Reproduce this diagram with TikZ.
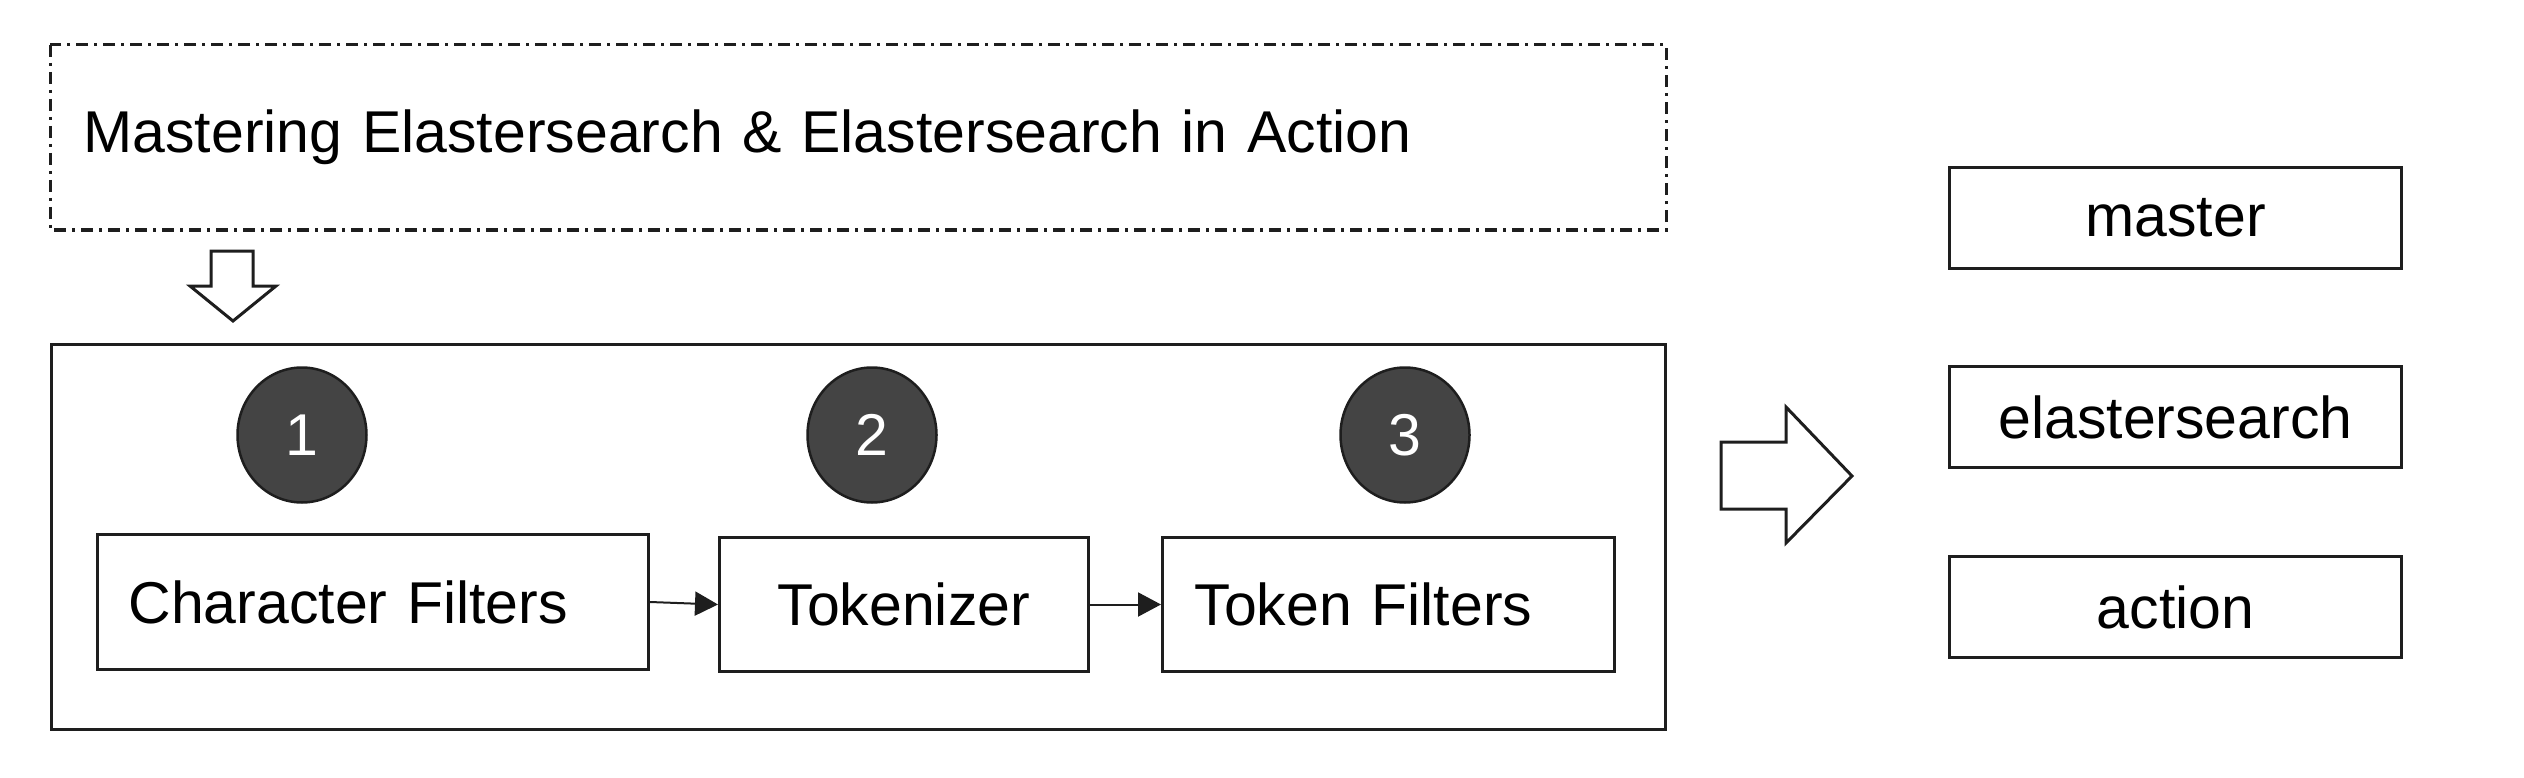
\documentclass[tikz,border=0pt]{standalone}
\usepackage{fontspec}
\setmainfont{Liberation Sans}
\usetikzlibrary{shapes.geometric,arrows.meta}
\definecolor{linec}{HTML}{1E1E1E}
\definecolor{discfill}{HTML}{444444}
\tikzset{
  lbl/.style={font=\fontsize{59}{70}\selectfont, text=black},
  box/.style={draw=linec, line width=3pt, rectangle, inner ysep=0pt, lbl},
  framebox/.style={draw=linec, line width=2.5pt, rectangle, inner sep=0pt},
  dashdot/.style={draw=linec, line width=3pt, dash pattern=on 12pt off 6pt on 3pt off 6pt},
  disc/.style={ellipse, draw=linec, line width=2.5pt, fill=discfill, minimum width=129pt, minimum height=135pt, inner sep=0pt, font=\fontsize{59}{70}\selectfont, text=white},
  conn/.style={draw=linec, line width=2pt, -{Triangle[length=23pt,width=24pt]}},
  blockarrow/.style={draw=linec, line width=3pt, fill=white, line join=miter}
}
\begin{document}
\begin{tikzpicture}[x=1pt,y=-1pt]
\useasboundingbox (0,0) rectangle (2524,778);
% title box
\node[box, draw=none, anchor=north west, minimum height=182pt, text width=1549pt, inner xsep=32pt, align=left] (title) at (50,45) {Mastering Elastersearch \& Elastersearch in Action};
\draw[dashdot] (title.north west) rectangle (title.south east);
% down block arrow
\draw[blockarrow] (211,251) -- (253,251) -- (253,286) -- (276,286) -- (233,321) -- (190,286) -- (211,286) -- cycle;
% outer frame
\node[framebox, anchor=north west, minimum width=1614pt, minimum height=385pt] (frame) at (50,343) {};
% discs
\node[disc] (d1) at (302,435) {1};
\node[disc] (d2) at (872,435) {2};
\node[disc] (d3) at (1405,435) {3};
% stage boxes
\node[box, anchor=north west, minimum height=135pt, text width=489pt, inner xsep=31pt, align=left] (cf) at (96,533) {Character Filters};
\node[box, anchor=north west, minimum height=134pt, text width=253pt, inner xsep=58pt, align=left] (tok) at (718,536) {Tokenizer};
\node[box, anchor=north west, minimum height=134pt, text width=388pt, inner xsep=32pt, align=left] (tf) at (1161,536) {Token Filters};
\draw[conn] (cf.east) -- (tok.west);
\draw[conn] (tok.east) -- (tok.east -| tf.west);
% right block arrow
\draw[blockarrow] (1721,442) -- (1786,442) -- (1786,407) -- (1852,476) -- (1786,543) -- (1786,509) -- (1721,509) -- cycle;
% result boxes
\node[box, anchor=north west, minimum width=452pt, minimum height=101pt] (m) at (1948,166) {master};
\node[box, anchor=north west, minimum width=452pt, minimum height=101pt] (e) at (1948,365) {elastersearch};
\node[box, anchor=north west, minimum width=452pt, minimum height=101pt] (a) at (1948,555) {action};
\end{tikzpicture}
\end{document}
